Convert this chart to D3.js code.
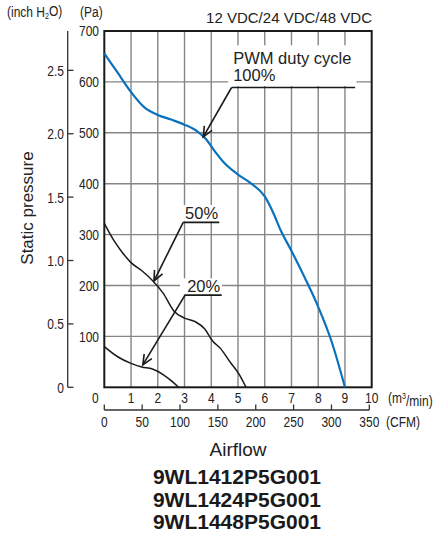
<!DOCTYPE html>
<html><head><meta charset="utf-8">
<script src="https://cdn.jsdelivr.net/npm/d3@7"></script>
<style>
html,body{margin:0;padding:0;background:#fff;}
svg{display:block;}
</style></head>
<body>
<svg id="c" width="436" height="540"></svg>
<script>
// ---- data (airflow m3/min, static pressure Pa) ----
const duty100 = [[0,656],[0.5,618],[1,580],[1.5,550],[2,535],[2.5,526],[3,516],[3.5,502],[3.8,488],[4.1,466],[4.5,440],[5,418],[5.5,400],[6,375],[6.3,345],[6.6,308],[7,268],[7.5,215],[8,158],[8.5,90],[9,0]];
const duty50 = [[0,322],[0.35,289],[0.7,263],[1,245],[1.45,227],[1.8,210],[2.2,185],[2.6,150],[3,136],[3.4,129],[3.75,115],[4.05,91],[4.35,76],[4.7,50],[5.05,25],[5.3,0]];
const duty20 = [[0,80],[0.5,60],[1,47],[1.4,40],[1.8,36],[2.2,25],[2.5,13],[2.78,0]];
const m3Ticks = [0,1,2,3,4,5,6,7,8,9,10];
const cfmTicks = [0,50,100,150,200,250,300,350];
const paTicks = [100,200,300,400,500,600,700];
const inchTicks = [0,0.5,1.0,1.5,2.0,2.5];
const models = ["9WL1412P5G001","9WL1424P5G001","9WL1448P5G001"];
// annotation anchors in data units: label pos, underline start/end, arrow tip
const notes = [
  {lines:["PWM duty cycle","100%"], tx:4.82, ty:[635,601], u0:4.76, u1:9.38, uy:589, tip:[3.70,492], mask:[4.63,9.43,672,592]},
  {lines:["50%"], tx:3.02, ty:[330], u0:2.95, u1:4.30, uy:324, tip:[1.86,209], mask:[2.86,4.35,358,326]},
  {lines:["20%"], tx:3.10, ty:[188], u0:3.02, u1:4.39, uy:181, tip:[1.44,44], mask:[2.83,4.40,214,183]}
];

const svg = d3.select("#c");
const x = d3.scaleLinear().domain([0,10]).range([104.3,371.7]);
const y = d3.scaleLinear().domain([0,700]).range([387.3,31]);
const PA_PER_INCH = 249.089, CFM_PER_M3 = 35.3147;
const TXT = "'Liberation Sans',Arial,Helvetica,sans-serif";
const GRID = "#858585";
const CX = 0.8; // horizontal condensing for numeric labels

// condensed text helper
function ctext(parent, px, py, anchor, size){
  return parent.append("text")
    .attr("transform",`translate(${px},${py}) scale(${CX},1)`)
    .attr("text-anchor",anchor).attr("dy","0.36em")
    .attr("font-family",TXT).attr("font-size",size).attr("fill","#222");
}

// grid
const g = svg.append("g");
g.selectAll(".vx").data(d3.range(1,10)).join("line")
  .attr("x1",d=>x(d)).attr("x2",d=>x(d)).attr("y1",y(700)).attr("y2",y(0))
  .attr("stroke",GRID).attr("stroke-width",1.4);
g.selectAll(".hy").data([100,200,300,400,500,600]).join("line")
  .attr("x1",x(0)).attr("x2",x(10)).attr("y1",d=>y(d)).attr("y2",d=>y(d))
  .attr("stroke",GRID).attr("stroke-width",1.4);

// masks behind annotation labels
svg.selectAll(".mask").data(notes).join("rect")
  .attr("x",d=>x(d.mask[0])).attr("width",d=>x(d.mask[1])-x(d.mask[0]))
  .attr("y",d=>y(d.mask[2])).attr("height",d=>y(d.mask[3])-y(d.mask[2]))
  .attr("fill","#fff");

// frame
svg.append("rect").attr("x",x(0)).attr("y",y(700)).attr("width",x(10)-x(0)).attr("height",y(0)-y(700))
  .attr("fill","none").attr("stroke","#1a1a1a").attr("stroke-width",2);

// curves
const line = d3.line().x(d=>x(d[0])).y(d=>y(d[1])).curve(d3.curveMonotoneX);
svg.append("path").datum(duty50).attr("d",line).attr("fill","none").attr("stroke","#1a1a1a").attr("stroke-width",1.5);
svg.append("path").datum(duty20).attr("d",line).attr("fill","none").attr("stroke","#1a1a1a").attr("stroke-width",1.5);
svg.append("path").datum(duty100).attr("d",line).attr("fill","none").attr("stroke","#0a72bd").attr("stroke-width",2.2);

// annotations
notes.forEach(n=>{
  const a = svg.append("g");
  n.lines.forEach((t,i)=>{
    a.append("text").attr("x",x(n.tx)).attr("y",y(n.ty[i])).text(t)
      .attr("font-family",TXT).attr("font-size",16.5).attr("fill","#222");
  });
  a.append("line").attr("x1",x(n.u0)).attr("x2",x(n.u1)).attr("y1",y(n.uy)).attr("y2",y(n.uy))
    .attr("stroke","#1a1a1a").attr("stroke-width",1.6);
  const sx=x(n.u0), sy=y(n.uy), ex=x(n.tip[0]), ey=y(n.tip[1]);
  a.append("line").attr("x1",sx).attr("y1",sy).attr("x2",ex).attr("y2",ey)
    .attr("stroke","#1a1a1a").attr("stroke-width",1.6);
  const ang=Math.atan2(sy-ey,sx-ex), L=11, h=0.42;
  a.append("path")
    .attr("d",`M${ex+L*Math.cos(ang+h)},${ey+L*Math.sin(ang+h)}L${ex},${ey}L${ex+L*Math.cos(ang-h)},${ey+L*Math.sin(ang-h)}`)
    .attr("fill","none").attr("stroke","#1a1a1a").attr("stroke-width",1.6);
});

// Pa labels
paTicks.forEach(d=>ctext(svg,99,y(d),"end",15).text(d));

// inch H2O axis
const yi = d3.scaleLinear().domain([0,700/PA_PER_INCH]).range([387.3,31]);
svg.append("line").attr("x1",67.7).attr("x2",67.7).attr("y1",y(700)).attr("y2",y(0))
  .attr("stroke","#333").attr("stroke-width",1.3);
svg.selectAll(".it").data(inchTicks).join("line")
  .attr("x1",67.7).attr("x2",73.5).attr("y1",d=>yi(d)).attr("y2",d=>yi(d))
  .attr("stroke","#333").attr("stroke-width",1.3);
inchTicks.forEach(d=>ctext(svg,64,yi(d),"end",15).text(d===0?"0":d.toFixed(1)));

// m3/min labels
m3Ticks.forEach(d=>ctext(svg,d===0?x(d)-9:x(d),398,"middle",15).text(d));
const mu = ctext(svg,388,398,"start",15);
mu.append("tspan").text("(m");
mu.append("tspan").attr("dy","-0.45em").attr("font-size",9).text("3");
mu.append("tspan").attr("dy","0.45em").text("/min)");

// CFM axis
const xc = d=>x(d/CFM_PER_M3);
svg.append("line").attr("x1",xc(0)).attr("x2",xc(350)).attr("y1",410).attr("y2",410)
  .attr("stroke","#333").attr("stroke-width",1.3);
svg.selectAll(".ct").data(cfmTicks).join("line")
  .attr("x1",d=>xc(d)).attr("x2",d=>xc(d)).attr("y1",410).attr("y2",404.5)
  .attr("stroke","#333").attr("stroke-width",1.3);
cfmTicks.forEach(d=>ctext(svg,xc(d),422,"middle",15).text(d));
ctext(svg,386,422,"start",15).text("(CFM)");

// header texts
const ih = ctext(svg,7,12,"start",15);
ih.append("tspan").text("(inch H");
ih.append("tspan").attr("font-size",9).attr("dy","0.2em").text("2");
ih.append("tspan").attr("dy","-0.2em").text("O)");
ctext(svg,80,12,"start",15).text("(Pa)");
svg.append("text").attr("x",372).attr("y",23.3).attr("text-anchor","end")
  .attr("font-family",TXT).attr("font-size",15).attr("fill","#222").text("12 VDC/24 VDC/48 VDC");

// axis titles
svg.append("text").attr("transform","translate(33,208) rotate(-90)").attr("text-anchor","middle")
  .attr("font-family",TXT).attr("font-size",17).attr("fill","#222").text("Static pressure");
svg.append("text").attr("x",238).attr("y",456).attr("text-anchor","middle")
  .attr("font-family",TXT).attr("font-size",19).attr("fill","#222").text("Airflow");
svg.selectAll(".mdl").data(models).join("text")
  .attr("x",237).attr("y",(d,i)=>484.3+i*22.4).attr("text-anchor","middle")
  .attr("font-family",TXT).attr("font-weight","bold").attr("font-size",21).attr("fill","#1a1a1a").text(d=>d);
</script>
</body></html>
